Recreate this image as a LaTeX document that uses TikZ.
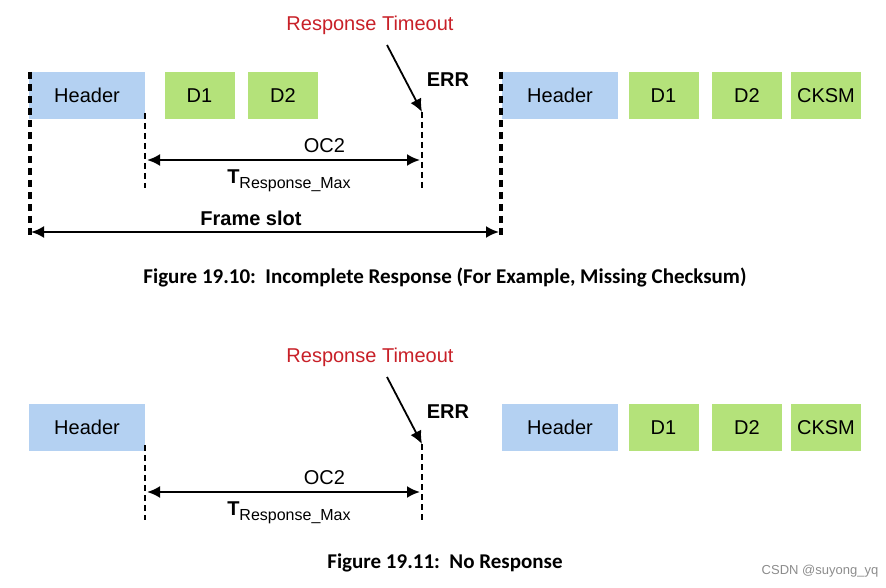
\documentclass[tikz,border=0pt]{standalone}
\usepackage{fontspec}
\setmainfont{Liberation Sans}
\newfontfamily\capfont{Carlito}
\usetikzlibrary{arrows.meta}
\definecolor{hdrblue}{RGB}{180,209,242}
\definecolor{datagreen}{RGB}{180,226,122}
\definecolor{tored}{RGB}{200,32,40}
\newcommand{\tresp}{{\bfseries T}{\fontsize{16}{18}\selectfont\raisebox{-5pt}{Response\_Max}}}
\begin{document}
\begin{tikzpicture}
  [x=1pt,y=-1pt,
   field/.style={rectangle,minimum height=47pt,inner sep=0pt,font=\fontsize{20}{24}\selectfont},
   hdr/.style={field,fill=hdrblue,minimum width=116pt},
   dat/.style={field,fill=datagreen,minimum width=70pt},
   lbl/.style={font=\fontsize{20}{24}\selectfont,inner sep=0pt},
   boldlbl/.style={lbl,font=\fontsize{20}{24}\selectfont\bfseries},
   bound/.style={line width=1.3pt,dash pattern=on 6pt off 4pt},
   slot/.style={line width=3.5pt,dash pattern=on 7pt off 5pt},
   span/.style={{Latex[length=13pt,width=12pt]}-{Latex[length=13pt,width=12pt]},line width=2.3pt},
   hit/.style={-{Latex[length=13pt,width=12pt]},line width=1.8pt},
   caption/.style={font=\capfont\fontsize{21}{24}\selectfont\bfseries,inner sep=0pt}]
\useasboundingbox (0,0) rectangle (886,588); % keep the page size
%
% Figure 19.10
\node[hdr] at (87,95.5)    (hdrA) {Header};
\node[dat] at (199.5,95.5) (d1A)  {D1};
\node[dat] at (283,95.5)   (d2A)  {D2};
\node[hdr] at (560,95.5)   (hdrB) {Header};
\node[dat] at (663.5,95.5) (d1B)  {D1};
\node[dat] at (747,95.5)   (d2B)  {D2};
\node[dat] at (826,95.5)   (ckB)  {CKSM};
\node[lbl, text=tored] at (370,25) (toA) {Response Timeout};
\node[boldlbl] at (448,80) (errA) {ERR};
\coordinate (slotLt) at (30,72);
\coordinate (slotLb) at (30,237);
\coordinate (slotRt) at (501,72);
\coordinate (slotRb) at (501,237);
\coordinate (hdrEndAt) at (145,113);
\coordinate (hdrEndAb) at (145,188);
\coordinate (errAt) at (422,112);
\coordinate (errAb) at (422,188);
\draw[slot] (slotLt) -- (slotLb);
\draw[slot] (slotRt) -- (slotRb);
\draw[bound] (hdrEndAt) -- (hdrEndAb);
\draw[bound] (errAt) -- (errAb);
\draw[hit] (387,45) -- (errAt);
\draw[span] (147,160) -- (420,160)
  node[lbl, pos=0.65, above=6pt] {OC2}
  node[lbl, pos=0.52, below=9pt] {\tresp};
\draw[span] (31,232) -- (499,232)
  node[boldlbl, pos=0.47, above=5pt] {Frame slot};
\node[caption] at (445,277) (capA) {Figure 19.10:\ \ Incomplete Response (For Example, Missing Checksum)};
%
% Figure 19.11
\node[hdr] at (87,427.5)    (hdrC) {Header};
\node[hdr] at (560,427.5)   (hdrD) {Header};
\node[dat] at (663.5,427.5) (d1D)  {D1};
\node[dat] at (747,427.5)   (d2D)  {D2};
\node[dat] at (826,427.5)   (ckD)  {CKSM};
\node[lbl, text=tored] at (370,357) (toC) {Response Timeout};
\node[boldlbl] at (448,412) (errC) {ERR};
\coordinate (hdrEndCt) at (145,445);
\coordinate (hdrEndCb) at (145,520);
\coordinate (errCt) at (422,444);
\coordinate (errCb) at (422,520);
\draw[bound] (hdrEndCt) -- (hdrEndCb);
\draw[bound] (errCt) -- (errCb);
\draw[hit] (387,377) -- (errCt);
\draw[span] (147,492) -- (420,492)
  node[lbl, pos=0.65, above=6pt] {OC2}
  node[lbl, pos=0.52, below=9pt] {\tresp};
\node[caption] at (445,563) (capC) {Figure 19.11:\ \ No Response};
\node[font=\fontsize{13}{15}\selectfont, text=black!45, inner sep=0pt] at (820,571) (mark) {CSDN @suyong\_yq};
\end{tikzpicture}
\end{document}
